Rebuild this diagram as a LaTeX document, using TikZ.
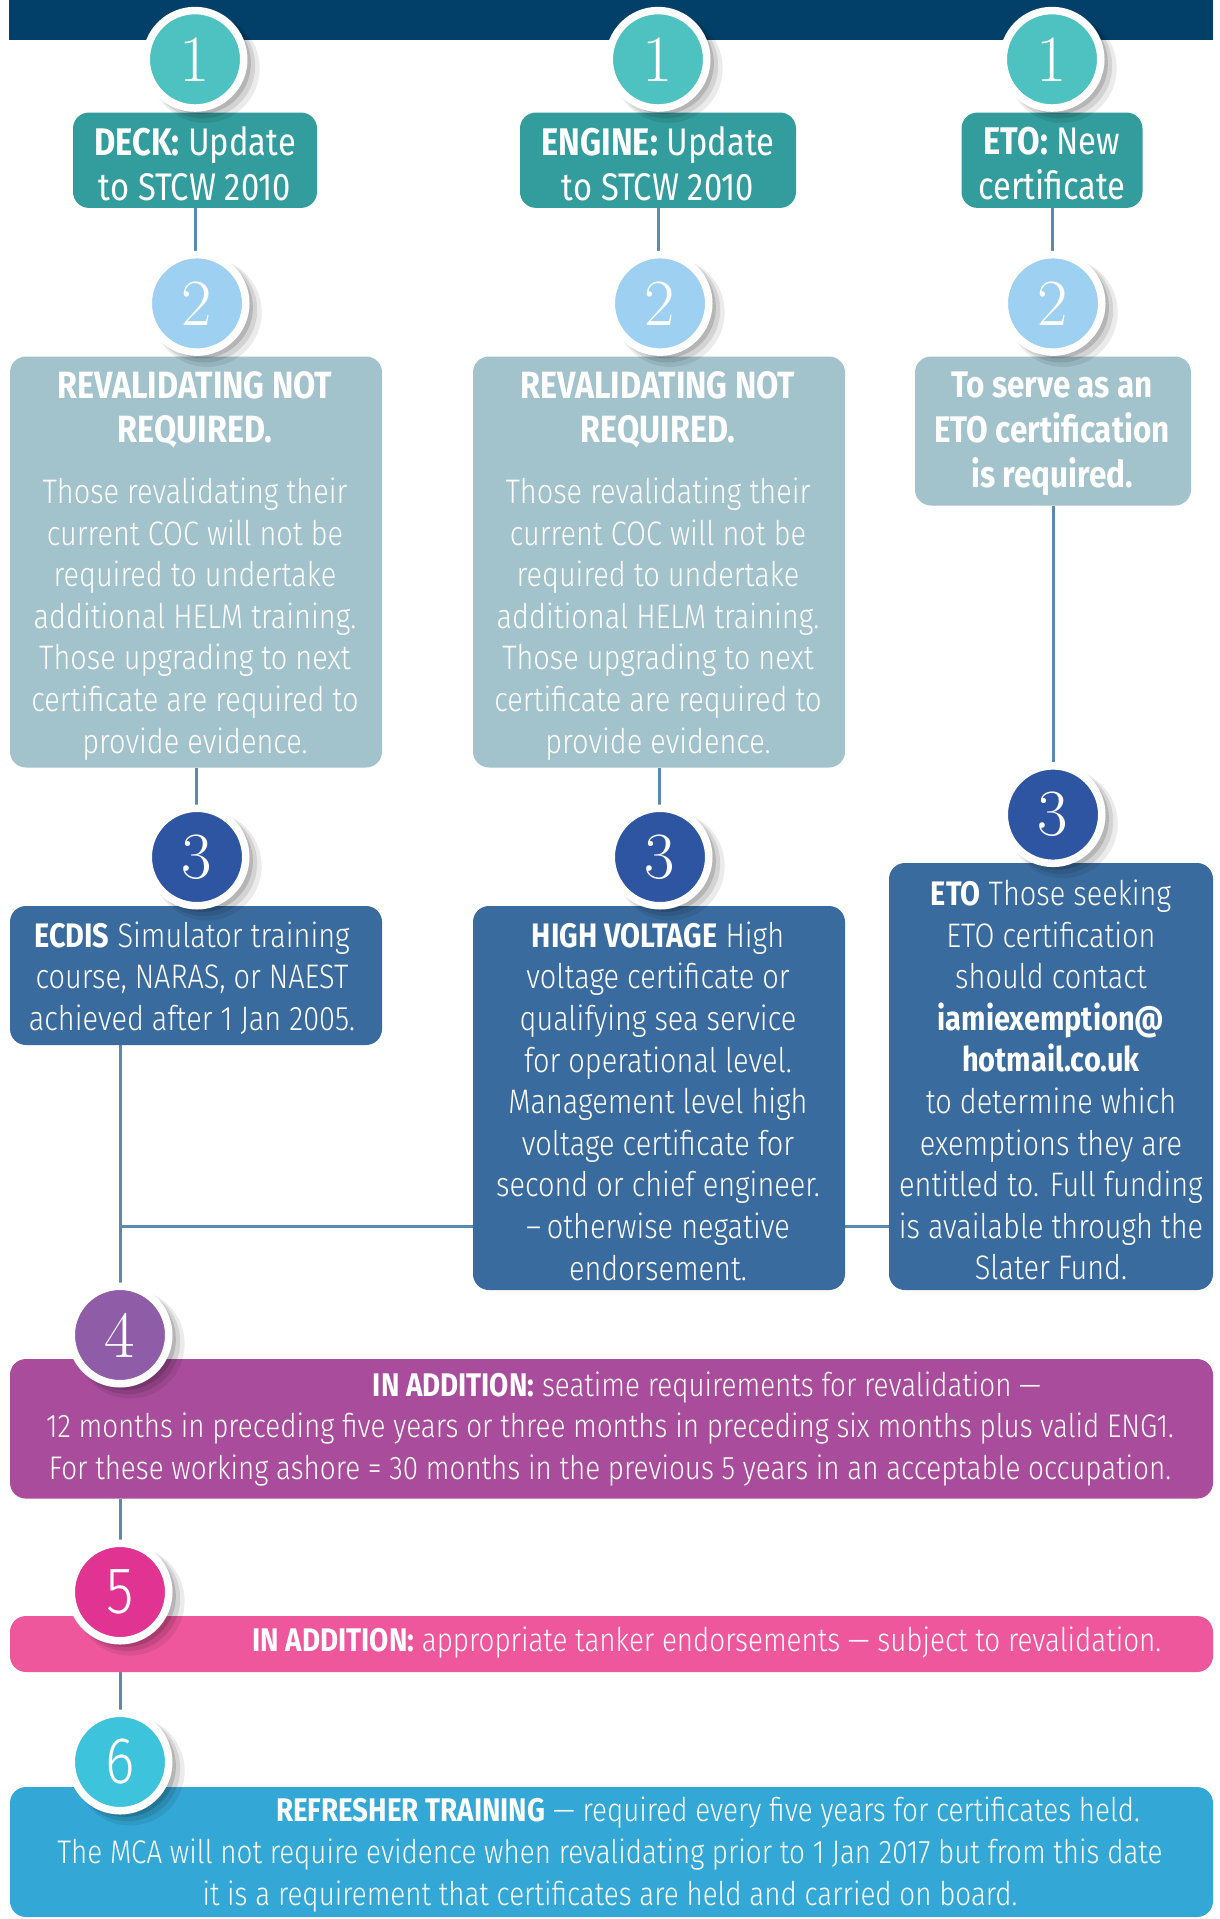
\documentclass[tikz,border=0pt]{standalone}
\usepackage{fontspec}
\newfontfamily\fira[FakeStretch=0.85]{Fira Sans}
\newfontfamily\firal[FakeStretch=0.85]{Fira Sans Light}
\newcommand\bb[1]{{\fira\bfseries #1}}
\usetikzlibrary{shadows,backgrounds}
\definecolor{topbar}{HTML}{02406A}
\definecolor{cone}{HTML}{4EC2C0}
\definecolor{bone}{HTML}{339C9C}
\definecolor{ctwo}{HTML}{9DD0F1}
\definecolor{btwo}{HTML}{A3C3CC}
\definecolor{cthree}{HTML}{2E55A2}
\definecolor{bthree}{HTML}{3A6B9E}
\definecolor{cfour}{HTML}{8F5CA8}
\definecolor{bfour}{HTML}{A94C9B}
\definecolor{cfive}{HTML}{E03392}
\definecolor{bfive}{HTML}{EF579D}
\definecolor{csix}{HTML}{3EC3DD}
\definecolor{bsix}{HTML}{33A8D6}
\definecolor{conncol}{HTML}{5B8AB1}
\tikzset{
  numc/.style={circle, minimum size=97.5pt, inner sep=0pt, draw=white, line width=7.5pt, text=white,
    drop shadow={shadow xshift=9pt, shadow yshift=-8pt, shadow scale=1.12, opacity=0.08, fill=black},
    drop shadow={shadow xshift=7pt, shadow yshift=-6pt, shadow scale=1.08, opacity=0.1, fill=black},
    drop shadow={shadow xshift=5pt, shadow yshift=-4pt, shadow scale=1.04, opacity=0.14, fill=black}},
  serifnum/.style={font=\fontsize{66}{66}\selectfont},
  sansnum/.style={font=\firal\fontsize{66}{66}\selectfont},
  boxshape/.style={rounded corners=16pt, inner sep=0pt, draw=none},
  txt/.style={text=white, align=center, inner sep=0pt},
  conn/.style={draw=conncol, line width=3pt},
  bodyfont/.style={font=\firal\fontsize{34}{41.6}\selectfont},
  widefont/.style={font=\firal\fontsize{32.7}{41.5}\selectfont},
}
\begin{document}
\begin{tikzpicture}[x=1pt,y=-1pt]
\useasboundingbox (0,0) rectangle (1219,1919);
\fill[topbar] (9,0) rectangle (1213,40);

% level 1 boxes
\node[boxshape, fill=bone, minimum width=244pt, minimum height=95.4pt] (b1d) at (195,160.2) {};
\node[boxshape, fill=bone, minimum width=276pt, minimum height=95.4pt] (b1e) at (658,160.2) {};
\node[boxshape, fill=bone, minimum width=181pt, minimum height=95.4pt] (b1t) at (1052,160.2) {};
\node[txt, font=\fira\fontsize{38.5}{45}\selectfont] (t1d) at (195,164) {\textbf{DECK:} Update\\to STCW 2010};
\node[txt, font=\fira\fontsize{38.5}{45}\selectfont] (t1e) at (658,164) {\textbf{ENGINE:} Update\\to STCW 2010};
\node[txt, font=\fira\fontsize{38.5}{45}\selectfont] (t1t) at (1052,164) {\textbf{ETO:} New\\certificate};

% level 2 boxes
\node[boxshape, fill=btwo, minimum width=372pt, minimum height=411pt] (b2d) at (196,562) {};
\node[boxshape, fill=btwo, minimum width=372pt, minimum height=411pt] (b2e) at (659,562) {};
\node[boxshape, fill=btwo, minimum width=276pt, minimum height=149pt] (b2t) at (1053,431) {};
\node[txt, font=\fira\bfseries\fontsize{38}{44}\selectfont] (h2d) at (195,410) {REVALIDATING NOT\\REQUIRED.};
\node[txt, font=\fira\bfseries\fontsize{38}{44}\selectfont] (h2e) at (658,410) {REVALIDATING NOT\\REQUIRED.};
\node[txt, bodyfont] (t2d) at (195,619) {Those revalidating their\\current COC will not be\\required to undertake\\additional HELM training.\\Those upgrading to next\\certificate are required to\\provide evidence.};
\node[txt, bodyfont] (t2e) at (658,619) {Those revalidating their\\current COC will not be\\required to undertake\\additional HELM training.\\Those upgrading to next\\certificate are required to\\provide evidence.};
\node[txt, font=\fira\bfseries\fontsize{37}{45}\selectfont] (t2t) at (1052,434) {To serve as an\\ETO certification\\is required.};

% level 3 boxes
\node[boxshape, fill=bthree, minimum width=372pt, minimum height=139pt] (b3d) at (196,975.5) {};
\node[boxshape, fill=bthree, minimum width=372pt, minimum height=384pt] (b3e) at (659,1098) {};
\node[boxshape, fill=bthree, minimum width=324pt, minimum height=427pt] (b3t) at (1051,1076.5) {};
\node[txt, bodyfont] (t3d) at (192,978) {\bb{ECDIS} Simulator training\\course, NARAS, or NAEST\\achieved after 1 Jan 2005.};
\node[txt, bodyfont] (t3e) at (658,1101) {\bb{HIGH VOLTAGE} High\\voltage certificate or\\qualifying sea service\\for operational level.\\Management level high\\voltage certificate for\\second or chief engineer.\\\textendash\,otherwise negative\\endorsement.};
\node[txt, bodyfont] (t3t) at (1051,1080) {\bb{ETO} Those seeking\\ETO certification\\should contact\\\bb{iamiexemption@}\\\bb{hotmail.co.uk}\\to determine which\\exemptions they are\\entitled to. Full funding\\is available through the\\Slater Fund.};

% bottom boxes
\node[boxshape, fill=bfour, minimum width=1203pt, minimum height=139.6pt] (b4) at (611.5,1428.8) {};
\node[boxshape, fill=bfive, minimum width=1203pt, minimum height=56pt] (b5) at (611.5,1644) {};
\node[boxshape, fill=bsix, minimum width=1203pt, minimum height=130pt] (b6) at (611.5,1852) {};
\node[txt, widefont] (t4a) at (707,1387.5) {\bb{IN ADDITION:} seatime requirements for revalidation \textemdash};
\node[txt, widefont] (t4b) at (610,1449.5) {12 months in preceding five years or three months in preceding six months plus valid ENG1.\\For these working ashore = 30 months in the previous 5 years in an acceptable occupation.};
\node[txt, widefont] (t5) at (707,1642.5) {\bb{IN ADDITION:} appropriate tanker endorsements \textemdash{} subject to revalidation.};
\node[txt, widefont] (t6a) at (708,1813) {\bb{REFRESHER TRAINING} \textemdash{} required every five years for certificates held.};
\node[txt, widefont] (t6b) at (610,1875.5) {The MCA will not require evidence when revalidating prior to 1 Jan 2017 but from this date\\it is a requirement that certificates are held and carried on board.};

% number circles
\node[numc, fill=cone, serifnum] (c1d) at (195,59.3) {1};
\node[numc, fill=cone, serifnum] (c1e) at (658,59.3) {1};
\node[numc, fill=cone, serifnum] (c1t) at (1052,59.3) {1};
\node[numc, fill=ctwo, serifnum] (c2d) at (197,303.4) {2};
\node[numc, fill=ctwo, serifnum] (c2e) at (660,303.4) {2};
\node[numc, fill=ctwo, serifnum] (c2t) at (1053,303.4) {2};
\node[numc, fill=cthree, serifnum] (c3d) at (197,857) {3};
\node[numc, fill=cthree, serifnum] (c3e) at (660,857) {3};
\node[numc, fill=cthree, serifnum] (c3t) at (1053,814.6) {3};
\node[numc, fill=cfour, serifnum] (c4) at (120,1335) {4};
\node[numc, fill=cfive, sansnum] (c5) at (120,1592) {5};
\node[numc, fill=csix, sansnum] (c6) at (120,1762) {6};

\coordinate (hj) at (120,1226.5);
\begin{scope}[on background layer]
\fill[white] (0,0) rectangle (1219,1919);
\draw[conn] (b1d.south) -- (c2d.north -| b1d.south);
\draw[conn] (b1e.south) -- (c2e.north -| b1e.south);
\draw[conn] (b1t.south) -- (c2t.north -| b1t.south);
\draw[conn] (b2d.south) -- (c3d.north -| b2d.south);
\draw[conn] (b2e.south) -- (c3e.north -| b2e.south);
\draw[conn] (b2t.south) -- (c3t.north -| b2t.south);
\draw[conn] (c4 |- b3d.south) -- (c4.north);
\draw[conn] (hj) -- (hj -| b3e.west);
\draw[conn] (hj -| b3e.east) -- (hj -| b3t.west);
\draw[conn] (c5 |- b4.south) -- (c5.north);
\draw[conn] (c6 |- b5.south) -- (c6.north);
\end{scope}
\end{tikzpicture}
\end{document}
